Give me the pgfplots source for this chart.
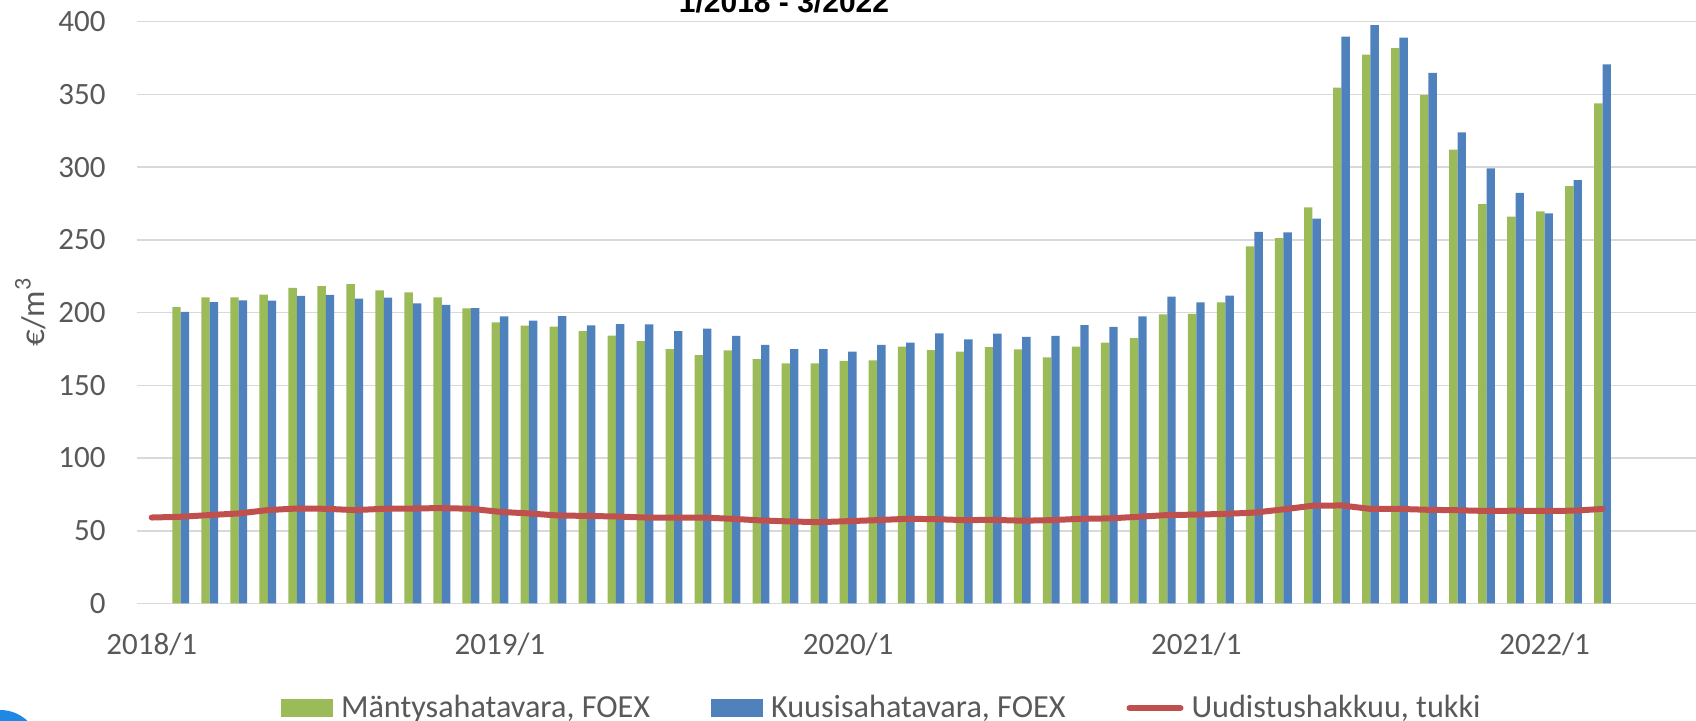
\documentclass[border=0pt]{standalone}
\usepackage{fontspec}
\setmainfont{Carlito}
\newfontfamily\titlefont{Liberation Sans}
\usepackage{pgfplots}
\usepackage{pgfplotstable}
\pgfplotsset{compat=1.18}
\definecolor{cgreen}{HTML}{9BBB59}
\definecolor{cblue}{HTML}{4F81BD}
\definecolor{cred}{HTML}{C0504D}
\definecolor{ctext}{HTML}{595959}
\definecolor{cgrid}{HTML}{D9D9D9}
\definecolor{clogo}{RGB}{30,136,229}

\pgfplotstableread{
x g b
1 203.8 200.4
2 210.5 207.2
3 210.5 208.4
4 212.3 208.2
5 216.9 211.4
6 218.2 212.1
7 219.6 209.5
8 215.3 210.2
9 213.9 206.3
10 210.5 205.2
11 202.9 203.1
12 193.3 197.4
13 191.0 194.4
14 190.3 197.6
15 187.3 191.2
16 184.1 192.1
17 180.4 191.9
18 174.9 187.3
19 170.8 188.9
20 174.0 183.9
21 168.0 177.7
22 165.1 174.9
23 165.1 174.9
24 166.7 173.1
25 167.1 177.7
26 176.5 179.3
27 174.2 185.7
28 173.1 181.6
29 176.3 185.5
30 174.7 183.2
31 169.2 183.9
32 176.5 191.4
33 179.3 190.1
34 182.5 197.4
35 198.7 210.9
36 199.0 207.0
37 207.0 211.7
38 245.4 255.4
39 251.2 255.1
40 272.3 264.5
41 354.6 389.7
42 377.3 397.5
43 381.7 389.0
44 349.6 364.8
45 312.0 323.9
46 274.5 299.1
47 265.9 282.2
48 269.5 268.1
49 286.9 291.0
50 343.8 370.6
}\bardata

\pgfplotstableread{
x r
0 59.1
1 59.6
2 60.8
3 61.9
4 64.2
5 65.3
6 65.1
7 64.2
8 65.1
9 65.3
10 65.6
11 65.1
12 63.0
13 61.9
14 60.5
15 60.2
16 59.8
17 59.1
18 59.1
19 59.1
20 58.2
21 57.1
22 56.4
23 55.9
24 56.6
25 57.3
26 58.2
27 58.0
28 57.3
29 57.5
30 56.9
31 57.3
32 58.2
33 58.5
34 59.6
35 60.8
36 61.1
37 61.6
38 62.5
39 64.7
40 67.2
41 67.4
42 65.0
43 65.0
44 64.4
45 64.1
46 63.6
47 63.8
48 63.6
49 63.8
50 65.0
}\linedata

\begin{document}
\begin{tikzpicture}
\path[use as bounding box] (0pt,0pt) rectangle (848pt,360.5pt);
\begin{axis}[
  at={(68.3pt,58.75pt)}, anchor=south west,
  width=779.7pt, height=290.95pt, scale only axis,
  xmin=-0.52, xmax=53.22, ymin=0, ymax=400,
  ytick={0,50,...,400},
  xtick={0,12,24,36,48},
  xticklabels={2018/1,2019/1,2020/1,2021/1,2022/1},
  axis line style={draw=none},
  major tick length=0pt,
  ymajorgrids, grid style={cgrid, line width=0.75pt},
  tick label style={font=\fontsize{15.5}{18}\selectfont, text=ctext},
  /pgf/number format/assume math mode=true,
  yticklabel style={anchor=east, inner sep=0pt, xshift=-15.3pt},
  xticklabel style={anchor=base, inner sep=0pt, yshift=-25.75pt},
  ylabel={€/m\raisebox{0.42em}{\fontsize{12}{12}\selectfont 3}},
  ylabel style={at={(axis description cs:-0.06804,0.5)}, anchor=center,
    font=\fontsize{16.5}{18}\selectfont, text=ctext, inner sep=0pt},
  legend columns=3,
  legend cell align=left,
  legend style={at={(axis description cs:0.0926,-0.1796)}, anchor=west,
    draw=none, fill=none, inner sep=0pt, outer sep=0pt,
    font=\fontsize{16.1}{18}\selectfont, text=ctext,
    nodes={inner sep=0pt},
    /tikz/every odd column/.style={column sep=4pt},
    /tikz/every even column/.style={column sep=30.5pt}},
]
\addplot[ybar, bar width=4.2pt, bar shift=-2.1pt, fill=cgreen, draw=none,
  legend image code/.code={\fill[cgreen] (0pt,-4.3pt) rectangle (26pt,4.3pt);}]
  table[x=x, y=g] {\bardata};
\addlegendentry{Mäntysahatavara, FOEX}
\addplot[ybar, bar width=4.2pt, bar shift=2.1pt, fill=cblue, draw=none,
  legend image code/.code={\fill[cblue] (0pt,-4.3pt) rectangle (26pt,4.3pt);}]
  table[x=x, y=b] {\bardata};
\addlegendentry{Kuusisahatavara, FOEX}
\addplot[sharp plot, cred, line width=3pt, line join=round, line cap=round, mark=none,
  legend image code/.code={\draw[cred, line width=3pt, line cap=round] (1.5pt,0pt) -- (27pt,0pt);}]
  table[x=x, y=r] {\linedata};
\addlegendentry{Uudistushakkuu, tukki}
\end{axis}
\node[font=\titlefont\bfseries\fontsize{15}{18}\selectfont, anchor=base, inner sep=0pt] at (392pt,354pt) {1/2018 - 3/2022};
\fill[clogo] (0pt,-14.5pt) circle (20pt);
\end{tikzpicture}
\end{document}
